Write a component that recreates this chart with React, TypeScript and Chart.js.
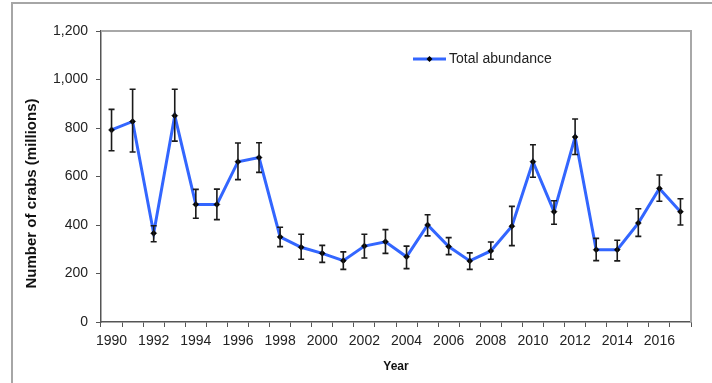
import React, { useEffect, useRef } from "react";
import { Chart, registerables } from "chart.js";

Chart.register(...registerables);

const years = [
  "1990", "1991", "1992", "1993", "1994", "1995", "1996", "1997", "1998", "1999",
  "2000", "2001", "2002", "2003", "2004", "2005", "2006", "2007", "2008", "2009",
  "2010", "2011", "2012", "2013", "2014", "2015", "2016", "2017",
];
const abundance = [
  792, 827, 366, 851, 485, 485, 661, 678, 351, 308,
  283, 253, 313, 331, 269, 400, 311, 252, 293, 395,
  661, 455, 763, 298, 298, 408, 551, 455,
];
const upper = [
  877, 960, 397, 960, 547, 548, 738, 739, 391, 362,
  316, 289, 362, 381, 313, 442, 348, 285, 330, 477,
  731, 500, 837, 345, 337, 467, 606, 508,
];
const lower = [
  706, 701, 331, 746, 428, 422, 587, 617, 311, 259,
  246, 217, 264, 283, 220, 355, 278, 217, 259, 315,
  597, 403, 691, 253, 252, 353, 498, 400,
];
const yTicks = [0, 200, 400, 600, 800, 1000, 1200];
const seriesLabel = "Total abundance";
const xTitle = "Year";
const yTitle = "Number of crabs (millions)";

const FONT = '"Liberation Sans", Arial, sans-serif';
const BLUE = "#3366ff";
const AXIS = "#555555";

export default function App() {
  const ref = useRef<HTMLCanvasElement | null>(null);

  useEffect(() => {
    const canvas = ref.current;
    if (!canvas) return;

    const framePlugin = {
      id: "frame",
      beforeDatasetsDraw(chart: any) {
        const { ctx, chartArea } = chart;
        ctx.save();
        ctx.strokeStyle = "#a8a8a8";
        ctx.lineWidth = 2;
        ctx.beginPath();
        ctx.moveTo(chartArea.left, chartArea.top);
        ctx.lineTo(chartArea.right, chartArea.top);
        ctx.lineTo(chartArea.right, chartArea.bottom);
        ctx.stroke();
        ctx.restore();
      },
    };

    const errorBarPlugin = {
      id: "errorBars",
      afterDatasetsDraw(chart: any) {
        const { ctx } = chart;
        const xs = chart.scales.x;
        const ys = chart.scales.y;
        ctx.save();
        ctx.strokeStyle = "#1a1a1a";
        ctx.lineWidth = 1.6;
        for (let i = 0; i < years.length; i++) {
          const x = xs.getPixelForValue(i);
          const yHi = ys.getPixelForValue(upper[i]);
          const yLo = ys.getPixelForValue(lower[i]);
          ctx.beginPath();
          ctx.moveTo(x, yHi);
          ctx.lineTo(x, yLo);
          ctx.moveTo(x - 3, yHi);
          ctx.lineTo(x + 3, yHi);
          ctx.moveTo(x - 3, yLo);
          ctx.lineTo(x + 3, yLo);
          ctx.stroke();
        }
        ctx.restore();
      },
    };

    const legendTitlePlugin = {
      id: "legendTitle",
      afterDraw(chart: any) {
        const { ctx, chartArea } = chart;
        ctx.save();
        // legend
        const lx = chartArea.left + 312;
        const ly = chartArea.top + 28;
        ctx.strokeStyle = BLUE;
        ctx.lineWidth = 3;
        ctx.beginPath();
        ctx.moveTo(lx, ly);
        ctx.lineTo(lx + 33, ly);
        ctx.stroke();
        ctx.fillStyle = "#000";
        ctx.beginPath();
        const cx = lx + 16.5;
        ctx.moveTo(cx, ly - 3);
        ctx.lineTo(cx + 3, ly);
        ctx.lineTo(cx, ly + 3);
        ctx.lineTo(cx - 3, ly);
        ctx.closePath();
        ctx.fill();
        ctx.fillStyle = "#222";
        ctx.font = "14px " + FONT;
        ctx.textAlign = "left";
        ctx.textBaseline = "middle";
        ctx.fillText(seriesLabel, lx + 36, ly);
        // y title
        ctx.translate(chartArea.left - 69.5, (chartArea.top + chartArea.bottom) / 2 + 17);
        ctx.rotate(-Math.PI / 2);
        ctx.font = "bold 15px " + FONT;
        ctx.textAlign = "center";
        ctx.fillStyle = "#111";
        ctx.fillText(yTitle, 0, 0);
        ctx.restore();
      },
    };

    const chart = new Chart(canvas, {
      type: "line",
      data: {
        labels: years,
        datasets: [
          {
            label: seriesLabel,
            data: abundance,
            borderColor: BLUE,
            borderWidth: 3,
            backgroundColor: BLUE,
            pointStyle: "rectRot",
            pointRadius: 3,
            pointBackgroundColor: "#000",
            pointBorderColor: "#000",
            pointBorderWidth: 0.5,
            tension: 0,
            fill: false,
          },
        ],
      },
      options: {
        responsive: false,
        animation: false,
        layout: { padding: { left: 0, top: 31, right: 21, bottom: 0 } },
        plugins: {
          legend: { display: false },
          tooltip: { enabled: false },
        },
        scales: {
          x: {
            type: "category",
            offset: true,
            grid: {
              offset: true,
              drawOnChartArea: false,
              drawTicks: true,
              tickLength: 5,
              color: AXIS,
              lineWidth: 1,
            },
            border: { display: true, color: AXIS, width: 1.5 },
            ticks: {
              autoSkip: false,
              maxRotation: 0,
              minRotation: 0,
              padding: 6,
              color: "#222",
              font: { family: FONT, size: 14 },
              callback: (_v: any, i: number) => (i % 2 === 0 ? years[i] : ""),
            },
            title: {
              display: true,
              text: xTitle,
              color: "#111",
              font: { family: FONT, size: 12, weight: "bold" },
              padding: { top: 0, bottom: 9 },
            },
            afterFit: (scale: any) => {
              scale.height = 61;
            },
          },
          y: {
            min: 0,
            max: 1200,
            afterBuildTicks: (scale: any) => {
              scale.ticks = yTicks.map((v) => ({ value: v }));
            },
            grid: {
              drawOnChartArea: false,
              drawTicks: true,
              tickLength: 5,
              color: AXIS,
              lineWidth: 1,
            },
            border: { display: true, color: AXIS, width: 1.5 },
            ticks: {
              padding: 8,
              color: "#222",
              font: { family: FONT, size: 14 },
              callback: (v: any) => Number(v).toLocaleString("en-US"),
            },
            afterFit: (scale: any) => {
              scale.width = 101;
            },
          },
        },
      },
      plugins: [framePlugin, errorBarPlugin, legendTitlePlugin],
    } as any);

    return () => chart.destroy();
  }, []);

  return (
    <div style={{ position: "fixed", left: 0, top: 0, width: 712, height: 383, background: "#fff", overflow: "hidden" }}>
      <div
        style={{
          position: "absolute",
          left: 11,
          top: 2,
          width: 800,
          height: 500,
          borderTop: "2px solid #a6a6a6",
          borderLeft: "2px solid #a6a6a6",
        }}
      />
      <canvas ref={ref} width={712} height={383} style={{ position: "absolute", left: 0, top: 0, width: 712, height: 383 }} />
    </div>
  );
}
